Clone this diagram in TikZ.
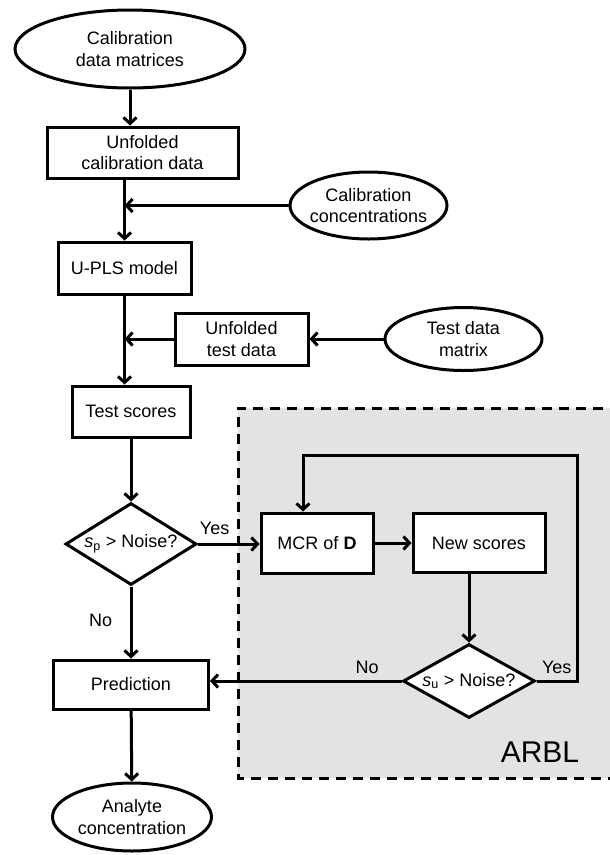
\documentclass[tikz,border=0pt]{standalone}
\usepackage{fontspec}
\setmainfont{Liberation Sans}
\usetikzlibrary{shapes.geometric,arrows.meta}

\begin{document}
\begin{tikzpicture}[x=1pt,y=-1pt,line width=3pt,
        >={Straight Barb[length=6pt,width=13pt]},
        font=\fontsize{18}{21.6}\selectfont,
        datum/.style={draw,ellipse,fill=white,inner sep=0pt,inner xsep=-5pt,align=center},
        block/.style={draw,rectangle,fill=white,inner sep=0pt,align=center},
        test/.style={draw,diamond,fill=white,inner sep=0pt,aspect=1.6}]
    \useasboundingbox (0,0) rectangle (610,855);
    % ARBL region
    \fill[gray!22] (238,408) rectangle (620,778);
    \draw[dash pattern=on 10pt off 7pt] (620,408) -| (238,778) -- (620,778);
    \node[font=\fontsize{30}{36}\selectfont] (arbl) at (540,752) {ARBL};

    \node[datum,minimum width=230pt,minimum height=78pt] (calmat) at (130,49) {Calibration\\data matrices};
    \node[block,minimum width=191pt,minimum height=51pt] (unfcal) at (142.5,152.5) {Unfolded\\calibration data};
    \node[datum,minimum width=157pt,minimum height=67pt] (calconc) at (368.5,205.5) {Calibration\\concentrations};
    \node[block,minimum width=133pt,minimum height=52pt] (upls) at (124.5,268) {U-PLS model};
    \node[block,minimum width=133pt,minimum height=52pt] (unftest) at (241.5,339) {Unfolded\\test data};
    \node[datum,minimum width=157pt,minimum height=63pt] (testmat) at (463.5,339) {Test data\\matrix};
    \node[block,minimum width=118pt,minimum height=51pt] (scores) at (131,411.5) {Test scores};
    \node[test,minimum width=131pt,minimum height=82pt] (noisep) at (131,544) {\textit{s}\textsubscript{p} > Noise?};
    \node[block,minimum width=112pt,minimum height=60pt] (mcr) at (317,543) {MCR of \textbf{D}};
    \node[block,minimum width=132pt,minimum height=59pt] (newsc) at (479,543) {New scores};
    \node[test,minimum width=132pt,minimum height=69pt] (noiseu) at (469,681) {\textit{s}\textsubscript{u} > Noise?};
    \node[block,minimum width=155pt,minimum height=49pt] (pred) at (131,684.5) {Prediction};
    \node[datum,minimum width=159pt,minimum height=68pt] (analyte) at (132,817) {Analyte\\concentration};
    \coordinate (loop) at (577,455);

    \draw[->] (calmat) -- (calmat |- unfcal.north);
    \draw[->] (upls.north |- unfcal.south) -- (upls.north);
    \draw[->] (calconc.west) -- (calconc.west -| upls.north);
    \draw[->] (upls.south) -- (upls.south |- scores.north);
    \draw[->] (unftest.west) -- (unftest.west -| upls.south);
    \draw[->] (testmat.west) -- (unftest.east);
    \draw[->] (scores) -- (noisep);
    \draw[->] (noisep.east) -- node[pos=0.27,above=4pt] {Yes} (mcr.west |- noisep.east);
    \draw[->] (noisep.south) -- node[pos=0.47,left=14pt] {No} (pred.north);
    \draw[->] (mcr) -- (newsc);
    \draw[->] (noiseu.north |- newsc.south) -- (noiseu.north);
    \draw[->] (noiseu.east) -- node[above=3pt] {Yes} (noiseu.east -| loop) -- (loop) -| ([xshift=-14pt]mcr.north);
    \draw[->] (noiseu.west) -- node[pos=0.18,above=3pt] {No} (noiseu.west -| pred.east);
    \draw[->] (pred) -- (analyte);
\end{tikzpicture}
\end{document}
